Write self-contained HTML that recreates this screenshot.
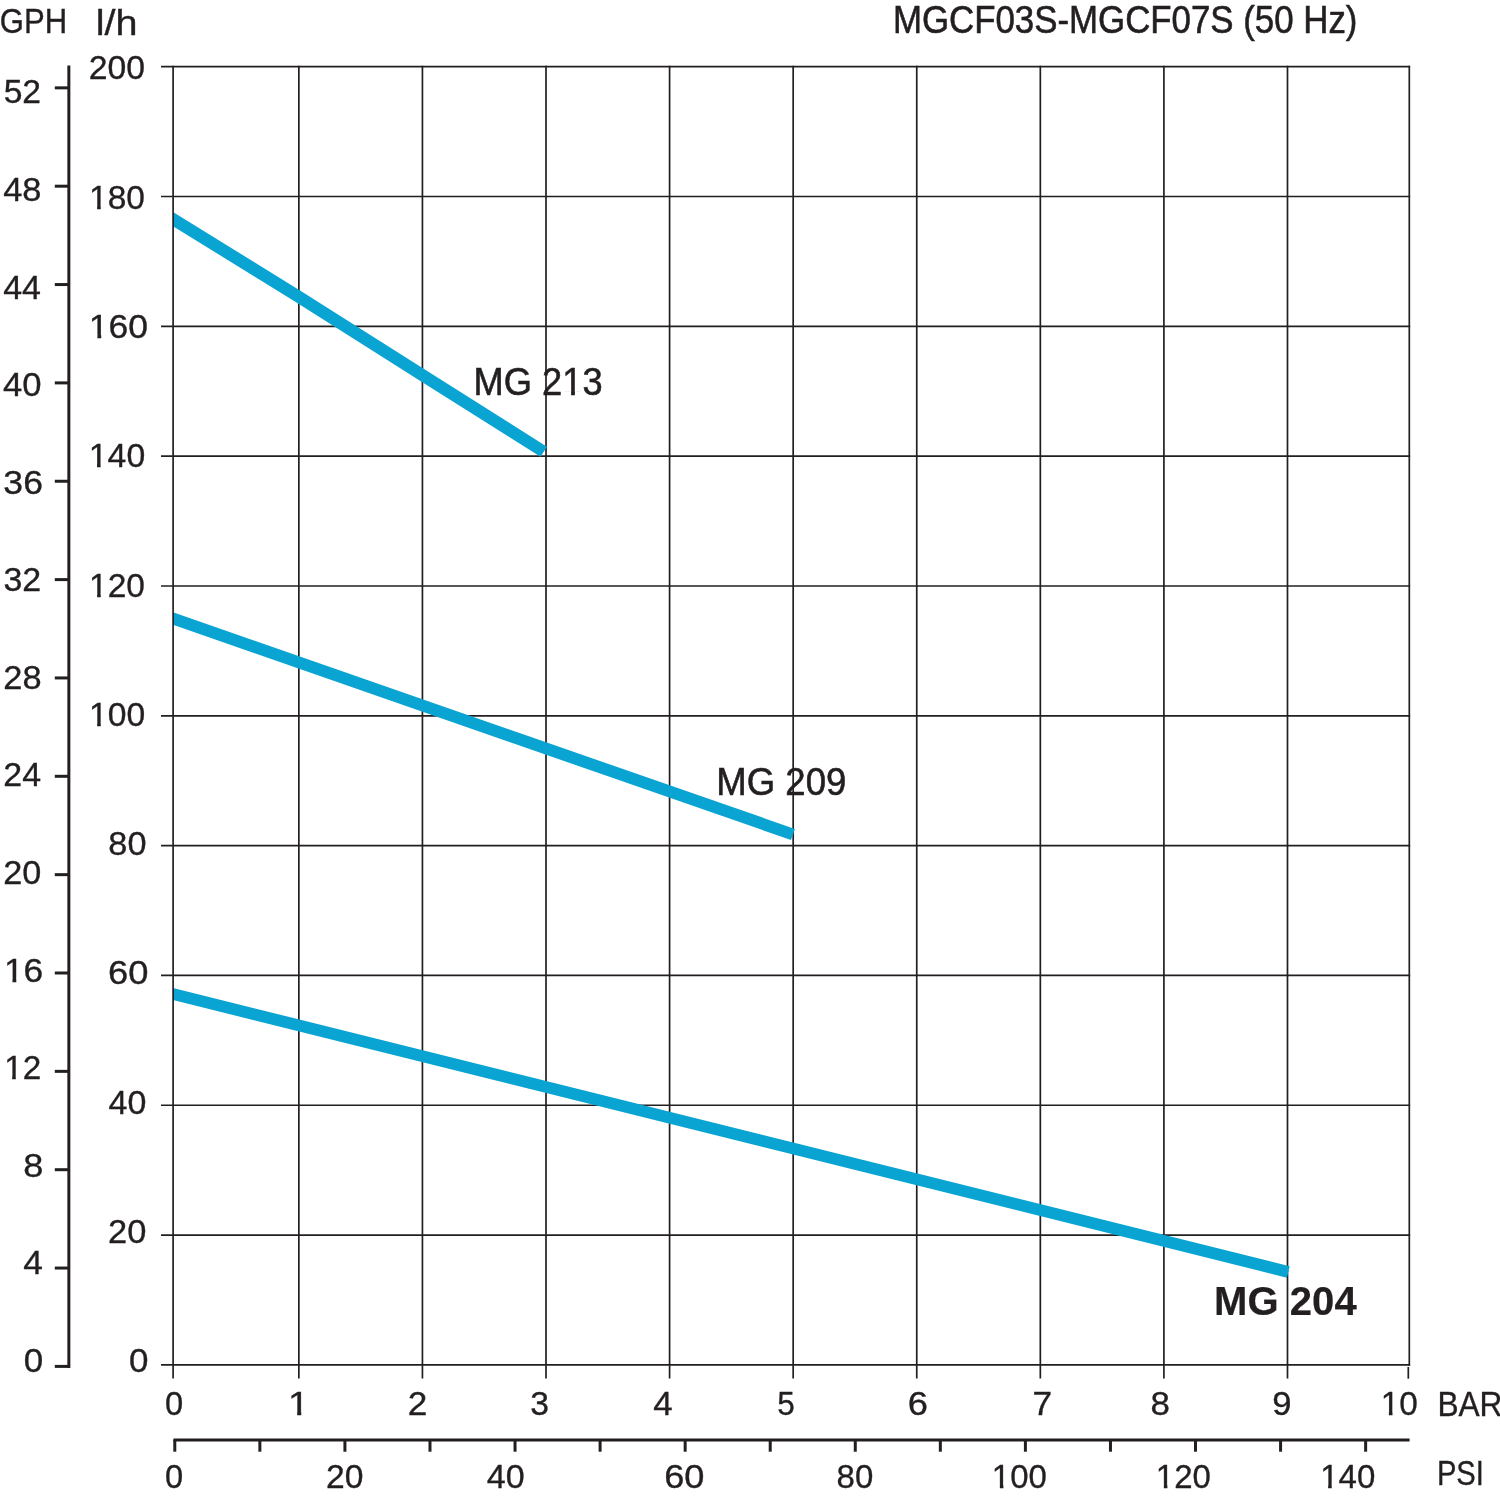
<!DOCTYPE html>
<html lang="en"><head><meta charset="utf-8"><title>MGCF03S-MGCF07S (50 Hz)</title>
<style>html,body{margin:0;padding:0;background:#fff}svg{display:block}text{font-family:"Liberation Sans", sans-serif;fill:#231f20;font-kerning:none}</style></head><body>
<svg width="1500" height="1497" viewBox="0 0 1500 1497">
<rect width="1500" height="1497" fill="#fff"/>
<g stroke="#231f20" stroke-width="1.70" fill="none" stroke-linecap="butt">
<line x1="161" y1="66.70" x2="1410.15" y2="66.70"/>
<line x1="161" y1="196.52" x2="1410.15" y2="196.52"/>
<line x1="161" y1="326.34" x2="1410.15" y2="326.34"/>
<line x1="161" y1="456.16" x2="1410.15" y2="456.16"/>
<line x1="161" y1="585.98" x2="1410.15" y2="585.98"/>
<line x1="161" y1="715.80" x2="1410.15" y2="715.80"/>
<line x1="161" y1="845.62" x2="1410.15" y2="845.62"/>
<line x1="161" y1="975.44" x2="1410.15" y2="975.44"/>
<line x1="161" y1="1105.26" x2="1410.15" y2="1105.26"/>
<line x1="161" y1="1235.08" x2="1410.15" y2="1235.08"/>
<line x1="161" y1="1364.90" x2="1410.15" y2="1364.90"/>
<line x1="298.85" y1="65.85" x2="298.85" y2="1378.5"/>
<line x1="422.43" y1="65.85" x2="422.43" y2="1378.5"/>
<line x1="546.01" y1="65.85" x2="546.01" y2="1378.5"/>
<line x1="669.59" y1="65.85" x2="669.59" y2="1378.5"/>
<line x1="793.17" y1="65.85" x2="793.17" y2="1378.5"/>
<line x1="916.75" y1="65.85" x2="916.75" y2="1378.5"/>
<line x1="1040.33" y1="65.85" x2="1040.33" y2="1378.5"/>
<line x1="1163.91" y1="65.85" x2="1163.91" y2="1378.5"/>
<line x1="1287.49" y1="65.85" x2="1287.49" y2="1378.5"/>
<line x1="1409.30" y1="65.85" x2="1409.30" y2="1365.75"/>
<line x1="1408.30" y1="1367" x2="1408.30" y2="1378.7"/>
</g>
<defs><clipPath id="plot"><rect x="173.10" y="0" width="1400" height="1497"/></clipPath></defs>
<g clip-path="url(#plot)" stroke="#0aa4d3" fill="none" stroke-linecap="butt" stroke-linejoin="round">
<polyline points="143.10,200.69 298.86,296.80 422.40,375.10 543.75,451.75" stroke-width="12.10"/>
<polyline points="143.10,608.15 792.95,834.45" stroke-width="11.80"/>
<polyline points="143.10,986.57 1288.30,1271.95" stroke-width="11.70"/>
</g>
<line x1="173.10" y1="65.85" x2="173.10" y2="1378.5" stroke="#231f20" stroke-width="1.70"/>
<g stroke="#231f20" stroke-width="3.00" fill="none" stroke-linecap="butt">
<line x1="68.85" y1="65.5" x2="68.85" y2="1367.9"/>
<line x1="54.8" y1="1366.40" x2="68.85" y2="1366.40"/>
<line x1="54.8" y1="1268.05" x2="68.85" y2="1268.05"/>
<line x1="54.8" y1="1169.70" x2="68.85" y2="1169.70"/>
<line x1="54.8" y1="1071.35" x2="68.85" y2="1071.35"/>
<line x1="54.8" y1="973.00" x2="68.85" y2="973.00"/>
<line x1="54.8" y1="874.65" x2="68.85" y2="874.65"/>
<line x1="54.8" y1="776.30" x2="68.85" y2="776.30"/>
<line x1="54.8" y1="677.95" x2="68.85" y2="677.95"/>
<line x1="54.8" y1="579.60" x2="68.85" y2="579.60"/>
<line x1="54.8" y1="481.25" x2="68.85" y2="481.25"/>
<line x1="54.8" y1="382.90" x2="68.85" y2="382.90"/>
<line x1="54.8" y1="284.55" x2="68.85" y2="284.55"/>
<line x1="54.8" y1="186.20" x2="68.85" y2="186.20"/>
<line x1="54.8" y1="87.85" x2="68.85" y2="87.85"/>
<line x1="173.4" y1="1439.9" x2="1409.6" y2="1439.9"/>
<line x1="174.80" y1="1439.9" x2="174.80" y2="1451.7"/>
<line x1="259.86" y1="1439.9" x2="259.86" y2="1451.7"/>
<line x1="344.92" y1="1439.9" x2="344.92" y2="1451.7"/>
<line x1="429.98" y1="1439.9" x2="429.98" y2="1451.7"/>
<line x1="515.04" y1="1439.9" x2="515.04" y2="1451.7"/>
<line x1="600.10" y1="1439.9" x2="600.10" y2="1451.7"/>
<line x1="685.16" y1="1439.9" x2="685.16" y2="1451.7"/>
<line x1="770.22" y1="1439.9" x2="770.22" y2="1451.7"/>
<line x1="855.28" y1="1439.9" x2="855.28" y2="1451.7"/>
<line x1="940.34" y1="1439.9" x2="940.34" y2="1451.7"/>
<line x1="1025.40" y1="1439.9" x2="1025.40" y2="1451.7"/>
<line x1="1110.46" y1="1439.9" x2="1110.46" y2="1451.7"/>
<line x1="1195.52" y1="1439.9" x2="1195.52" y2="1451.7"/>
<line x1="1280.58" y1="1439.9" x2="1280.58" y2="1451.7"/>
<line x1="1365.64" y1="1439.9" x2="1365.64" y2="1451.7"/>
</g>
<g opacity="0.999">
<text transform="translate(3.65 103.33) scale(0.9920 1)" font-size="33.90" stroke="#231f20" stroke-width="0.35">52</text>
<text transform="translate(3.22 200.92) scale(1.0162 1)" font-size="33.90" stroke="#231f20" stroke-width="0.35">48</text>
<text transform="translate(3.24 298.51) scale(1.0018 1)" font-size="33.90" stroke="#231f20" stroke-width="0.35">44</text>
<text transform="translate(2.92 396.10) scale(1.0226 1)" font-size="33.90" stroke="#231f20" stroke-width="0.35">40</text>
<text transform="translate(3.37 493.69) scale(1.0482 1)" font-size="33.90" stroke="#231f20" stroke-width="0.35">36</text>
<text transform="translate(3.43 591.28) scale(1.0011 1)" font-size="33.90" stroke="#231f20" stroke-width="0.35">32</text>
<text transform="translate(3.28 688.87) scale(1.0147 1)" font-size="33.90" stroke="#231f20" stroke-width="0.35">28</text>
<text transform="translate(3.31 786.46) scale(1.0000 1)" font-size="33.90" stroke="#231f20" stroke-width="0.35">24</text>
<text transform="translate(3.29 884.05) scale(1.0097 1)" font-size="33.90" stroke="#231f20" stroke-width="0.35">20</text>
<clipPath id="c0"><rect x="-5" y="-33.90" width="47.71" height="30.64"/><rect x="8.21" y="-3.56" width="3.62" height="5.06"/><rect x="18.85" y="-3.56" width="18.85" height="13.56"/></clipPath>
<text transform="translate(3.94 981.64) scale(1.0434 1)" font-size="33.90" stroke="#231f20" stroke-width="0.35" clip-path="url(#c0)">16</text>
<clipPath id="c1"><rect x="-5" y="-33.90" width="47.71" height="30.64"/><rect x="8.21" y="-3.56" width="3.62" height="5.06"/><rect x="18.85" y="-3.56" width="18.85" height="13.56"/></clipPath>
<text transform="translate(4.14 1079.23) scale(0.9812 1)" font-size="33.90" stroke="#231f20" stroke-width="0.35" clip-path="url(#c1)">12</text>
<text transform="translate(23.16 1176.82) scale(1.0670 1)" font-size="33.90" stroke="#231f20" stroke-width="0.35">8</text>
<text transform="translate(23.21 1274.41) scale(1.0397 1)" font-size="33.90" stroke="#231f20" stroke-width="0.35">4</text>
<text transform="translate(23.70 1372.00) scale(1.0317 1)" font-size="33.90" stroke="#231f20" stroke-width="0.35">0</text>
<text transform="translate(88.71 79.40) scale(0.9951 1)" font-size="33.90" stroke="#231f20" stroke-width="0.35">200</text>
<clipPath id="c2"><rect x="-5" y="-33.90" width="66.56" height="30.64"/><rect x="8.21" y="-3.56" width="3.62" height="5.06"/><rect x="18.85" y="-3.56" width="18.85" height="13.56"/><rect x="37.71" y="-3.56" width="18.85" height="13.56"/></clipPath>
<text transform="translate(89.02 208.69) scale(0.9878 1)" font-size="33.90" stroke="#231f20" stroke-width="0.35" clip-path="url(#c2)">180</text>
<clipPath id="c3"><rect x="-5" y="-33.90" width="66.56" height="30.64"/><rect x="8.21" y="-3.56" width="3.62" height="5.06"/><rect x="18.85" y="-3.56" width="18.85" height="13.56"/><rect x="37.71" y="-3.56" width="18.85" height="13.56"/></clipPath>
<text transform="translate(88.83 337.98) scale(1.0473 1)" font-size="33.90" stroke="#231f20" stroke-width="0.35" clip-path="url(#c3)">160</text>
<clipPath id="c4"><rect x="-5" y="-33.90" width="66.56" height="30.64"/><rect x="8.21" y="-3.56" width="3.62" height="5.06"/><rect x="18.85" y="-3.56" width="18.85" height="13.56"/><rect x="37.71" y="-3.56" width="18.85" height="13.56"/></clipPath>
<text transform="translate(88.79 467.27) scale(0.9974 1)" font-size="33.90" stroke="#231f20" stroke-width="0.35" clip-path="url(#c4)">140</text>
<clipPath id="c5"><rect x="-5" y="-33.90" width="66.56" height="30.64"/><rect x="8.21" y="-3.56" width="3.62" height="5.06"/><rect x="18.85" y="-3.56" width="18.85" height="13.56"/><rect x="37.71" y="-3.56" width="18.85" height="13.56"/></clipPath>
<text transform="translate(89.02 596.56) scale(0.9878 1)" font-size="33.90" stroke="#231f20" stroke-width="0.35" clip-path="url(#c5)">120</text>
<clipPath id="c6"><rect x="-5" y="-33.90" width="66.56" height="30.64"/><rect x="8.21" y="-3.56" width="3.62" height="5.06"/><rect x="18.85" y="-3.56" width="18.85" height="13.56"/><rect x="37.71" y="-3.56" width="18.85" height="13.56"/></clipPath>
<text transform="translate(89.00 725.85) scale(0.9935 1)" font-size="33.90" stroke="#231f20" stroke-width="0.35" clip-path="url(#c6)">100</text>
<text transform="translate(108.34 855.14) scale(1.0110 1)" font-size="33.90" stroke="#231f20" stroke-width="0.35">80</text>
<text transform="translate(107.98 984.43) scale(1.0732 1)" font-size="33.90" stroke="#231f20" stroke-width="0.35">60</text>
<text transform="translate(108.53 1113.72) scale(1.0029 1)" font-size="33.90" stroke="#231f20" stroke-width="0.35">40</text>
<text transform="translate(108.08 1243.01) scale(1.0155 1)" font-size="33.90" stroke="#231f20" stroke-width="0.35">20</text>
<text transform="translate(128.90 1372.30) scale(1.0317 1)" font-size="33.90" stroke="#231f20" stroke-width="0.35">0</text>
<text transform="translate(165.09 1415.20) scale(0.9637 1)" font-size="33.90" stroke="#231f20" stroke-width="0.35">0</text>
<clipPath id="c7"><rect x="-5" y="-33.90" width="28.85" height="30.64"/><rect x="8.21" y="-3.56" width="3.62" height="5.06"/></clipPath>
<text transform="translate(287.99 1415.20) scale(1.1203 1)" font-size="33.90" stroke="#231f20" stroke-width="0.35" clip-path="url(#c7)">1</text>
<text transform="translate(407.84 1415.20) scale(1.0373 1)" font-size="33.90" stroke="#231f20" stroke-width="0.35">2</text>
<text transform="translate(530.34 1415.20) scale(0.9936 1)" font-size="33.90" stroke="#231f20" stroke-width="0.35">3</text>
<text transform="translate(653.22 1415.20) scale(1.0281 1)" font-size="33.90" stroke="#231f20" stroke-width="0.35">4</text>
<text transform="translate(777.34 1415.20) scale(0.9315 1)" font-size="33.90" stroke="#231f20" stroke-width="0.35">5</text>
<text transform="translate(907.78 1415.20) scale(1.0715 1)" font-size="33.90" stroke="#231f20" stroke-width="0.35">6</text>
<text transform="translate(1032.54 1415.20) scale(1.0430 1)" font-size="33.90" stroke="#231f20" stroke-width="0.35">7</text>
<text transform="translate(1150.52 1415.20) scale(1.0293 1)" font-size="33.90" stroke="#231f20" stroke-width="0.35">8</text>
<text transform="translate(1272.36 1415.20) scale(1.0205 1)" font-size="33.90" stroke="#231f20" stroke-width="0.35">9</text>
<clipPath id="c8"><rect x="-5" y="-33.90" width="47.71" height="30.64"/><rect x="8.21" y="-3.56" width="3.62" height="5.06"/><rect x="18.85" y="-3.56" width="18.85" height="13.56"/></clipPath>
<text transform="translate(1380.83 1415.20) scale(0.9838 1)" font-size="33.90" stroke="#231f20" stroke-width="0.35" clip-path="url(#c8)">10</text>
<text transform="translate(165.09 1488.00) scale(0.9637 1)" font-size="33.90" stroke="#231f20" stroke-width="0.35">0</text>
<text transform="translate(325.92 1488.00) scale(0.9924 1)" font-size="33.90" stroke="#231f20" stroke-width="0.35">20</text>
<text transform="translate(486.83 1488.00) scale(1.0058 1)" font-size="33.90" stroke="#231f20" stroke-width="0.35">40</text>
<text transform="translate(664.19 1488.00) scale(1.0674 1)" font-size="33.90" stroke="#231f20" stroke-width="0.35">60</text>
<text transform="translate(836.60 1488.00) scale(0.9737 1)" font-size="33.90" stroke="#231f20" stroke-width="0.35">80</text>
<text transform="translate(991.87 1488.00) scale(0.9724 1)" font-size="33.90" stroke="#231f20" stroke-width="0.35" clip-path="url(#c6)">100</text>
<text transform="translate(1155.87 1488.00) scale(0.9724 1)" font-size="33.90" stroke="#231f20" stroke-width="0.35" clip-path="url(#c5)">120</text>
<text transform="translate(1320.16 1488.00) scale(0.9743 1)" font-size="33.90" stroke="#231f20" stroke-width="0.35" clip-path="url(#c4)">140</text>
<text transform="translate(-0.15 33.40) scale(0.8798 1)" font-size="35.30" stroke="#231f20" stroke-width="0.35">GPH</text>
<text transform="translate(95.73 34.70) scale(1.1114 1)" font-size="35.60" stroke="#231f20" stroke-width="0.35">l/h</text>
<text transform="translate(1437.39 1415.70) scale(0.8965 1)" font-size="35.30" stroke="#231f20" stroke-width="0.35">BAR</text>
<text transform="translate(1436.89 1485.00) scale(0.8277 1)" font-size="35.30" stroke="#231f20" stroke-width="0.35">PSI</text>
<text transform="translate(892.92 33.40) scale(0.8983 1)" font-size="38.80" stroke="#231f20" stroke-width="0.60">MGCF03S-MGCF07S (50 Hz)</text>
<clipPath id="c9"><rect x="-5" y="-38.80" width="148.02" height="35.17"/><rect x="0.00" y="-3.93" width="32.32" height="15.52"/><rect x="32.32" y="-3.93" width="30.18" height="15.52"/><rect x="62.50" y="-3.93" width="10.78" height="15.52"/><rect x="73.28" y="-3.93" width="21.58" height="15.52"/><rect x="104.30" y="-3.93" width="4.05" height="5.43"/><rect x="116.44" y="-3.93" width="21.58" height="15.52"/></clipPath>
<text transform="translate(473.61 394.80) scale(0.9347 1)" font-size="38.80" stroke="#231f20" stroke-width="0.60" clip-path="url(#c9)">MG 213</text>
<text transform="translate(716.28 794.80) scale(0.9429 1)" font-size="38.80" stroke="#231f20" stroke-width="0.60">MG 209</text>
<text transform="translate(1214.09 1314.60) scale(0.9832 1)" font-size="40.80" stroke="#231f20" stroke-width="0.20" font-weight="bold">MG 204</text>
</g>
</svg></body></html>
